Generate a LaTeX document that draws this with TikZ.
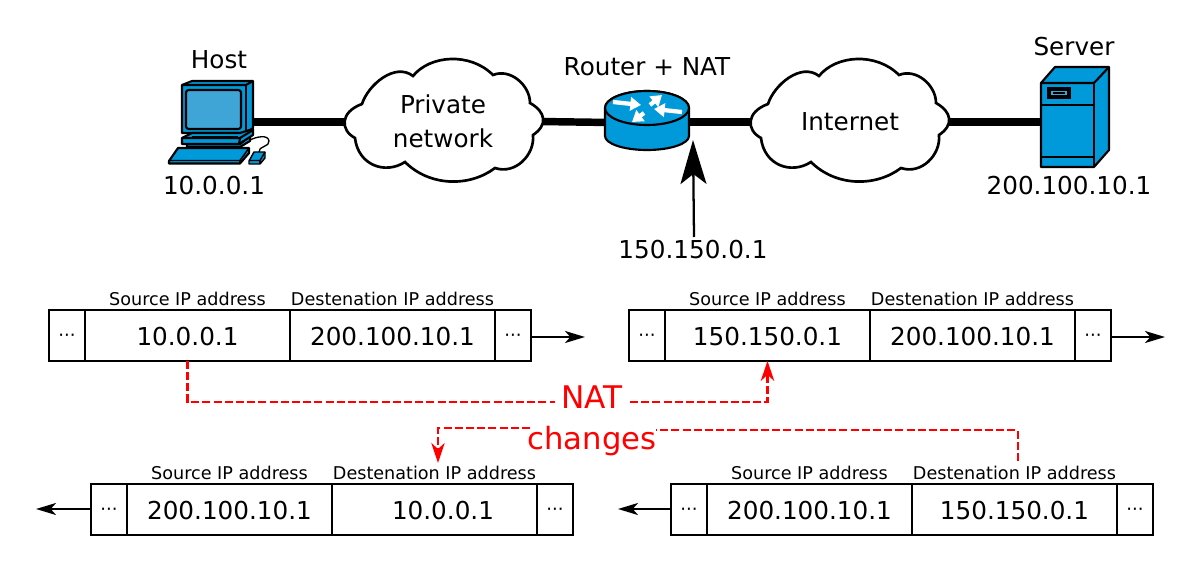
\documentclass[tikz,border=0pt]{standalone}
\usepackage{fontspec}
\setmainfont{DejaVu Sans}
\usetikzlibrary{arrows.meta,calc}
\definecolor{ciscoblue}{HTML}{0099D9}
\definecolor{screenblue}{HTML}{3FA5D6}
\definecolor{natred}{HTML}{FF0000}
\tikzset{
  every node/.style={inner sep=0pt,outer sep=0pt,text=black},
  biglabel/.style={font=\fontsize{18.5}{22}\selectfont,align=center},
  smalllabel/.style={font=\fontsize{13.2}{16}\selectfont},
  redlabel/.style={font=\fontsize{23.4}{28}\selectfont,text=natred},
  cellbox/.style={draw=black,line width=1.6pt,fill=white,minimum height=38pt,font=\fontsize{18.5}{22}\selectfont},
  dotcell/.style={cellbox,minimum width=27pt,font=\fontsize{13.5}{16}\selectfont,text height=9pt,text depth=0pt},
  addrcell/.style={cellbox,minimum width=153.75pt,text height=15.2pt,text depth=0pt},
  wire/.style={line width=5.6pt,black},
  flow/.style={line width=1.7pt,black,-{Stealth[length=15pt,width=9pt,inset=4pt]}},
  natline/.style={line width=2pt,natred,dash pattern=on 6pt off 2.4pt},
  natarrow/.style={natline,-{Stealth[length=15pt,width=10pt,inset=4.5pt,natred]}},
  pointer/.style={line width=1.7pt,black,-{Stealth[length=33pt,width=19.5pt,inset=7.5pt]}},
  iconline/.style={draw=black,line width=1.6pt,line join=round},
  cloudline/.style={draw=black,line width=2pt,fill=white},
  routerarrow/.style={line width=3.2pt,white,-{Triangle[length=8pt,width=10pt,fill=white]}},
}
\newcommand{\packetrow}[5]{%
  % #1 prefix, #2 left edge px, #3 centre y px, #4 left addr, #5 right addr
  \node[dotcell] (#1a) at (#2+18,#3) {···};
  \node[addrcell] (#1b) at (#2+138.5,#3) {#4};
  \node[addrcell] (#1c) at (#2+343.5,#3) {#5};
  \node[dotcell] (#1d) at (#2+464,#3) {···};
  \node[smalllabel] (#1s) at (#2+138.5,#3-37) {Source IP address};
  \node[smalllabel] (#1t) at (#2+343.5,#3-37) {Destenation IP address};
}
\newcommand{\cloudpath}{%
  \path[cloudline] (362,104) .. controls (368,85) and (395,62) .. (413,76)
    .. controls (430,55) and (470,52) .. (493,75)
    .. controls (510,68) and (530,85) .. (530,103)
    .. controls (546,112) and (548,125) .. (533,135)
    .. controls (535,155) and (515,175) .. (495,168)
    .. controls (470,187) and (430,187) .. (405,162)
    .. controls (385,175) and (358,165) .. (355,138)
    .. controls (340,130) and (340,112) .. (362,104) -- cycle;}
\begin{document}
\begin{tikzpicture}[x=0.75pt,y=-0.75pt]
\useasboundingbox (0,0) rectangle (1200,574);
% connection points
\coordinate (hostport) at (250,122);
\coordinate (privL) at (350,122);
\coordinate (privR) at (540,121.5);
\coordinate (routerL) at (610,122.5);
\coordinate (routerR) at (685,122);
\coordinate (netL) at (755,122);
\coordinate (netR) at (945,122);
\coordinate (serverport) at (1045,122);
\draw[wire] (hostport) -- (privL);
\draw[wire] (privR) -- (routerL);
\draw[wire] (routerR) -- (netL);
\draw[wire] (netR) -- (serverport);
% clouds
\cloudpath
\node[biglabel] (priv) at (443,121) {Private\\[3.5pt]network};
\begin{scope}[shift={(406,0)}]\cloudpath\end{scope}
\node[biglabel] (inet) at (850,122) {Internet};
% host computer
\path[iconline,fill=ciscoblue] (182,85) -- (192,81) -- (253,81) -- (253,128) -- (246,133) -- (182,133) -- cycle;
\draw[iconline] (182,85) -- (246,85) -- (253,81);
\draw[iconline] (246,85) -- (246,133);
\path[iconline,fill=screenblue,rounded corners=2pt] (186,90) rectangle (241,129);
\path[iconline,fill=ciscoblue] (187,144) -- (187,147) -- (240,147) -- (250,141) -- (250,136) -- (240,144) -- cycle;
\path[iconline,fill=ciscoblue] (182,138) -- (192,133) -- (240,133) -- (253,129) -- (253,135) -- (239,144) -- (182,144) -- cycle;
\draw[iconline] (182,138) -- (240,138) -- (253,130);
\draw[iconline] (240,138) -- (239,144);
\draw[iconline] (192,137) -- (238,137);
\path[iconline,fill=ciscoblue] (169,161) -- (178,148) -- (249,148) -- (249,153) -- (240,163.5) -- (169,163.5) -- cycle;
\draw[iconline,line width=1.1pt] (169,160.5) -- (240,160.5) -- (249,148);
\draw[iconline,line width=1.1pt] (240,160.5) -- (240,163.5);
\path[iconline,line width=1pt] (250,140) .. controls (256,137) and (268,134) .. (269,141) .. controls (270,147) and (258,146) .. (259,152);
\path[iconline,line width=1.1pt,fill=ciscoblue] (249,161) -- (254,152) -- (265,152) -- (265,158) -- (260,164) -- (249,164) -- cycle;
\draw[iconline,line width=1.1pt] (249,160.5) -- (260,160.5) -- (265,152);
\draw[iconline,line width=1.1pt] (260,160.5) -- (260,164);
% router
\path[iconline,fill=ciscoblue] (605,108) -- (605,136) arc[start angle=180,end angle=360,x radius=42,y radius=-14] -- (689,108) arc[start angle=0,end angle=180,x radius=42,y radius=-17] -- cycle;
\path[iconline,fill=ciscoblue] (647,108) ellipse[x radius=42,y radius=17];
\draw[routerarrow] (613,102) -- (641,105);
\draw[routerarrow] (650,105) -- (662,95);
\draw[routerarrow] (682,112) -- (654,109);
\draw[routerarrow] (644,113) -- (632,122);
% server
\path[iconline,fill=ciscoblue] (1041,83) -- (1055,67) -- (1109,67) -- (1109,150) -- (1094,167) -- (1041,167) -- cycle;
\draw[iconline] (1041,83) -- (1094,83) -- (1109,67);
\draw[iconline] (1094,83) -- (1094,167);
\draw[iconline] (1041,105) -- (1094,105);
\draw[iconline] (1041,157) -- (1094,157);
\path[draw=black,line width=2.4pt,fill=screenblue] (1049,89) rectangle (1069,97);
\draw[black,line width=1.1pt] (1053,93) -- (1065,93);
% top labels
\node[biglabel] (hostlabel) at (219,60) {Host};
\node[biglabel] (hostip) at (214,186) {10.0.0.1};
\node[biglabel] (routerlabel) at (647,67) {Router + NAT};
\node[biglabel] (routerip) at (693,250) {150.150.0.1};
\node[biglabel] (serverlabel) at (1074,47) {Server};
\node[biglabel] (serverip) at (1069,186) {200.100.10.1};
\coordinate (routerbottom) at (693,140);
\coordinate (routerfeed) at (694,237);
\draw[pointer] (routerfeed) -- (routerbottom);
% packets
\packetrow{pa}{49}{335.5}{10.0.0.1}{200.100.10.1}
\packetrow{pb}{629}{335.5}{150.150.0.1}{200.100.10.1}
\packetrow{pc}{91}{509.5}{200.100.10.1}{\hspace*{12.75pt}10.0.0.1}
\packetrow{pd}{671}{509.5}{200.100.10.1}{150.150.0.1}
\coordinate (outa) at (585,337);
\coordinate (outb) at (1165,337);
\coordinate (outc) at (36,509);
\coordinate (outd) at (618,509);
\draw[flow] (pad.east |- outa) -- (outa);
\draw[flow] (pbd.east |- outb) -- (outb);
\draw[flow] (pca.west |- outc) -- (outc);
\draw[flow] (pda.west |- outd) -- (outd);
% NAT changes
\node[redlabel] (nat) at (592,397) {NAT};
\node[redlabel,font=\fontsize{23}{28}\selectfont] (changes) at (592,441) {changes};
\coordinate (natL) at (555,402);
\coordinate (natR) at (630,402);
\coordinate (chgL) at (530,428);
\coordinate (chgR) at (656,430);
\coordinate (tipc) at (438,463);
\coordinate (startd) at (1018,461);
\draw[natline] (pab.south) |- (natL);
\draw[natarrow] (natR) -| (pbb.south);
\draw[natline] (startd) |- (chgR);
\draw[natarrow] (chgL) -| (tipc);
\end{tikzpicture}
\end{document}
